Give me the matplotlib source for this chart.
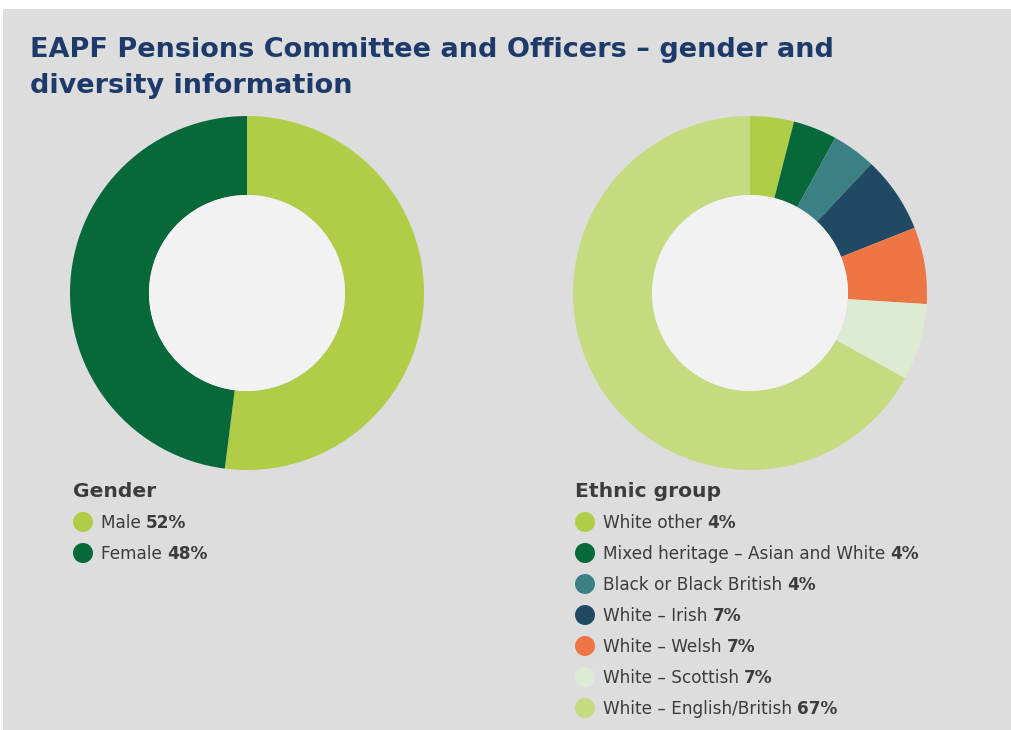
import matplotlib.pyplot as plt
from matplotlib.patches import Circle, Rectangle

W, H = 1012, 730

title_lines = ["EAPF Pensions Committee and Officers – gender and",
               "diversity information"]

gender_labels = ["Male", "Female"]
gender_values = [52, 48]
gender_colors = ["#b1cd48", "#07693a"]

ethnic_labels = ["White other", "Mixed heritage – Asian and White",
                 "Black or Black British", "White – Irish", "White – Welsh",
                 "White – Scottish", "White – English/British"]
ethnic_values = [4, 4, 4, 7, 7, 7, 67]
ethnic_colors = ["#b1cd48", "#07693a", "#3a8085", "#204a64", "#ee7645",
                 "#dcebd2", "#c6da80"]

PANEL = "#dddddd"
HOLE = "#f2f2f2"
TEXT = "#3c3c3c"
NAVY = "#1d3a6a"
FONT = ["DejaVu Sans"]

fig = plt.figure(figsize=(W / 100, H / 100), dpi=100, facecolor="white")
ax = fig.add_axes([0, 0, 1, 1])


def y(py):
    # pixel rows are counted from the top
    return H - py


ax.add_patch(Rectangle((3, 0), W - 3, H - 9, facecolor=PANEL, edgecolor="none", zorder=0))

for i, line in enumerate(title_lines):
    ax.text(30, y(57 + i * 36), line, fontsize=19.5, fontweight="bold", color=NAVY,
            family=FONT, va="baseline", ha="left")


def donut(cx, cy, values, colors):
    ax.pie(values, colors=colors, startangle=90, counterclock=False,
           radius=177, center=(cx, y(cy)),
           wedgeprops=dict(width=79, linewidth=0))
    ax.add_patch(Circle((cx, y(cy)), 98, facecolor=HOLE, edgecolor="none", zorder=5))


donut(247, 293, gender_values, gender_colors)
donut(750, 293, ethnic_values, ethnic_colors)
ax.set_xlim(0, W)
ax.set_ylim(0, H)
ax.set_aspect("auto")
ax.axis("off")


def legend(x0, title, labels, values, colors):
    ax.text(x0, y(497), title, fontsize=14.6, fontweight="bold", color=TEXT,
            family=FONT, va="baseline")
    for i, (lab, val, col) in enumerate(zip(labels, values, colors)):
        row = 522 + i * 31.0
        ax.add_patch(Circle((x0 + 10, y(row)), 10, facecolor=col, edgecolor="none"))
        t = ax.text(x0 + 28, y(row + 6), lab + " ", fontsize=12.2, color=TEXT,
                    family=FONT, va="baseline")
        ax.annotate(f"{val}%", xy=(1, 0), xycoords=t, va="bottom", ha="left",
                    fontsize=12.2, fontweight="bold", color=TEXT, family=FONT)


legend(73, "Gender", gender_labels, gender_values, gender_colors)
legend(575, "Ethnic group", ethnic_labels, ethnic_values, ethnic_colors)

fig.savefig("out.png", dpi=100, facecolor="white")
